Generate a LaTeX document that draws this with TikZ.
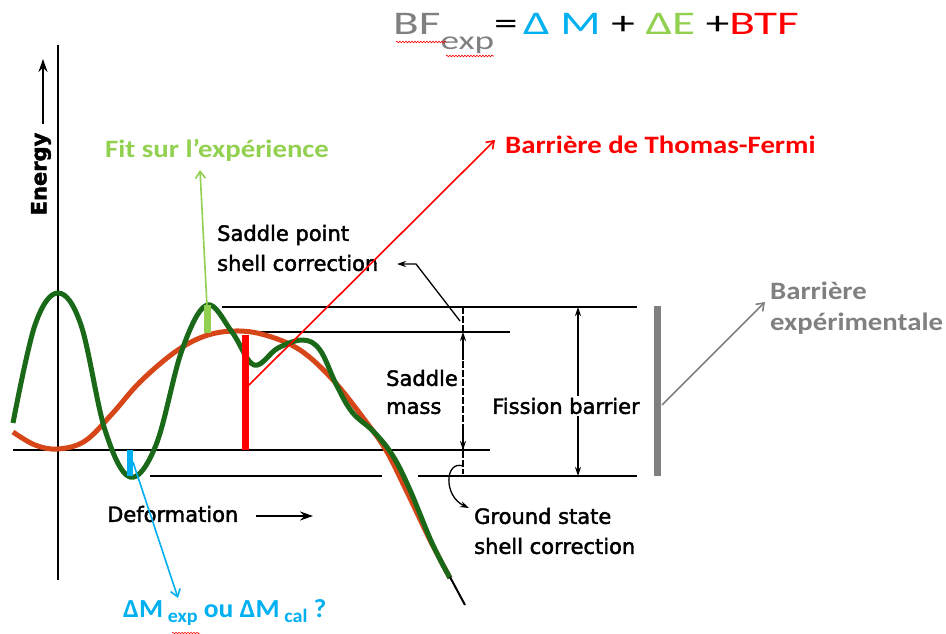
\documentclass[tikz,border=0pt]{standalone}
\usepackage{fontspec}
\setmainfont{Carlito}
\newfontfamily\figfont[FakeBold=2]{DejaVu Sans}
\newfontfamily\annotfont[FakeStretch=1.15]{Carlito}
\newfontfamily\cyanfont[FakeStretch=1.06]{Carlito}
\newfontfamily\formfont[FakeStretch=1.43]{Carlito}
\usetikzlibrary{arrows.meta,decorations.pathmorphing}
\definecolor{dkgreen}{RGB}{25,105,25}
\definecolor{orred}{RGB}{215,70,25}
\definecolor{lgreen}{RGB}{146,208,80}
\definecolor{cyanb}{RGB}{0,176,240}
\definecolor{redb}{RGB}{255,0,0}
\definecolor{grayb}{RGB}{128,128,128}
\tikzset{
  figline/.style={line width=2pt,black},
  figlabel/.style={font=\figfont\fontsize{21}{30}\selectfont,inner sep=0pt,align=left},
  annot/.style={font=\annotfont\bfseries\fontsize{25}{31}\selectfont,inner sep=0pt,align=left},
  figtip/.style={-{Stealth[length=9pt,width=6pt]}},
  bigtip/.style={-{Stealth[length=13pt,width=9pt]}},
  thintip/.style={-{Straight Barb[length=7pt,width=10pt]}},
  wavy/.style={redb,line width=0.6pt,decorate,decoration={snake,amplitude=0.8pt,segment length=3pt}},
}
\begin{document}
\begin{tikzpicture}[x=1pt,y=-1pt]
\useasboundingbox[fill=white] (0,0) rectangle (946,634);

% ---- horizontal reference lines ----
\coordinate (l1a) at (222,307); \coordinate (l1b) at (637,307);
\coordinate (l2a) at (258,332); \coordinate (l2b) at (510,332);
\coordinate (l3a) at (13,450);  \coordinate (l3b) at (490,450);
\coordinate (l4a) at (150,476); \coordinate (l4b) at (382,476);
\coordinate (l4c) at (418,476); \coordinate (l4d) at (637,476);
\draw[figline] (l1a) -- (l1b);
\draw[figline] (l2a) -- (l2b);
\draw[figline] (l3a) -- (l3b);
\draw[figline] (l4a) -- (l4b);
\draw[figline] (l4c) -- (l4d);

% ---- vertical axis ----
\coordinate (axtop) at (58,45); \coordinate (axbot) at (58,580);
\draw[figline] (axtop) -- (axbot);
\node[figlabel,rotate=90,font=\figfont\bfseries\fontsize{21}{24}\selectfont] (energy) at (41,174) {Energy};
\coordinate (ea) at (43,124); \coordinate (eb) at (43,59);
\draw[line width=2pt,bigtip] (ea) -- (eb);

% ---- Deformation ----
\node[figlabel,anchor=west] (deform) at (107,514) {Deformation};
\coordinate (da) at (256,516); \coordinate (db) at (313,516);
\draw[line width=2pt,bigtip] (da) -- (db);

% ---- curves ----
\draw[orred,line width=5pt,line join=round] plot[smooth,tension=0.6] coordinates {
 (13,432) (35,445) (58,449) (85,441) (112,414) (140,382) (175,352) (205,336) (235,331)
 (265,335) (300,350) (333,380) (367,423) (387,452) (407,492) (430,540) (450,578)};
\draw[dkgreen,line width=5pt,line join=round] plot[smooth,tension=0.6] coordinates {
 (13,423) (35,325) (58,293) (81,325) (105,430) (130,477) (156,445) (182,350) (207,305)
 (232,332) (254,365) (278,348) (303,340) (320,350) (336,384) (352,412) (374,432)
 (393,456) (410,490) (432,543) (450,578)};
\coordinate (ce1) at (450,577); \coordinate (ce2) at (465,605);
\draw[figline] (ce1) -- (ce2);

% ---- coloured bars ----
\coordinate (gb1) at (207,305); \coordinate (gb2) at (207,333);
\draw[lgreen,line width=7pt] (gb1) -- (gb2);
\coordinate (rb1) at (245,335); \coordinate (rb2) at (245,450);
\draw[redb,line width=7pt] (rb1) -- (rb2);
\coordinate (bb1) at (130,450); \coordinate (bb2) at (130,476);
\draw[cyanb,line width=6pt] (bb1) -- (bb2);
\coordinate (gy1) at (657,306); \coordinate (gy2) at (657,476);
\draw[grayb,line width=7pt] (gy1) -- (gy2);

% ---- saddle mass ----
\coordinate (sm1) at (463,307); \coordinate (sm2) at (463,474);
\draw[line width=1.3pt,dash pattern=on 7pt off 2pt] (sm1) -- (sm2);
\coordinate (sm3) at (463,360); \coordinate (sm4) at (463,332);
\coordinate (sm5) at (463,425); \coordinate (sm6) at (463,450);
\draw[line width=1.3pt,figtip] (sm3) -- (sm4);
\draw[line width=1.3pt,figtip] (sm5) -- (sm6);
\node[figlabel,anchor=west,font=\figfont\fontsize{21}{28}\selectfont] (saddle) at (386,392) {Saddle\\mass};

% ---- fission barrier ----
\coordinate (fb1) at (578,307); \coordinate (fb2) at (578,476);
\node[figlabel,fill=white,inner sep=2pt] (fission) at (566,406) {Fission barrier};
\draw[line width=1.3pt,figtip] (fission.north -| fb1) -- (fb1);
\draw[line width=1.3pt,figtip] (fission.south -| fb2) -- (fb2);

% ---- saddle point shell correction ----
\node[figlabel,anchor=west] (spsc) at (217,248) {Saddle point\\shell correction};
\coordinate (sp1) at (460,321); \coordinate (sp2) at (416,264); \coordinate (sp3) at (397,264);
\draw[line width=1.3pt,figtip] (sp1) -- (sp2) -- (sp3);

% ---- ground state shell correction ----
\node[figlabel,anchor=west] (gssc) at (474,531) {Ground state\\shell correction};
\coordinate (gs1) at (463,466); \coordinate (gs2) at (469,508);
\draw[line width=1.3pt,figtip] (gs1) .. controls (445,460) and (443,496) .. (gs2);

% ---- annotations ----
\node[annot,lgreen,anchor=west] (fit) at (105,150) {Fit sur l’expérience};
\coordinate (fa) at (207,306); \coordinate (fb) at (200,170);
\draw[lgreen,line width=1.6pt,thintip] (fa) -- (fb);

\node[annot,redb,anchor=west] (btf) at (505,145) {Barrière de Thomas-Fermi};
\coordinate (ra) at (249,385); \coordinate (rbt) at (495,140);
\draw[redb,line width=1.6pt,thintip] (ra) -- (rbt);

\node[annot,grayb,anchor=west] (bexp) at (770,308) {Barrière\\expérimentale};
\coordinate (ga) at (662,405); \coordinate (gbt) at (765,302);
\draw[grayb,line width=1.6pt,thintip] (ga) -- (gbt);

\node[inner sep=0pt,anchor=west,cyanb,font=\cyanfont\bfseries\fontsize{26}{30}\selectfont] (dm) at (123,613)
 {ΔM\raisebox{-5pt}{\fontsize{19}{19}\selectfont\ exp} ou ΔM\raisebox{-5pt}{\fontsize{19}{19}\selectfont\ cal} ?};
\coordinate (cb1) at (133,462); \coordinate (cb2) at (178,598);
\draw[cyanb,line width=1.6pt,thintip] (cb1) -- (cb2);
\coordinate (wv1) at (172,633); \coordinate (wv2) at (200,633);
\draw[wavy,line width=0.5pt] (wv1) -- (wv2);

% ---- formula ----
\node[inner sep=0pt,anchor=base west,font=\formfont\fontsize{33}{38}\selectfont] (formula) at (393,35)
 {{\color{grayb}BF\raisebox{-15pt}{\fontsize{26}{26}\selectfont exp}}=\,{\color{cyanb}Δ M} + {\color{lgreen}ΔE} +{\color{redb}BTF}};
\coordinate (w1) at (396,42); \coordinate (w2) at (446,42);
\coordinate (w3) at (446,56); \coordinate (w4) at (494,56);
\draw[wavy] (w1) -- (w2);
\draw[wavy] (w3) -- (w4);
\end{tikzpicture}
\end{document}
